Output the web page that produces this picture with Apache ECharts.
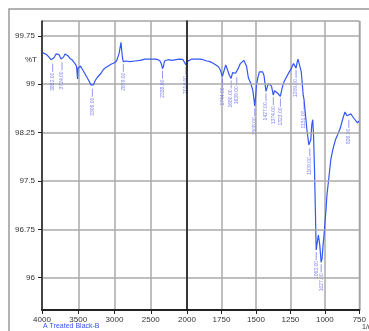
<!DOCTYPE html>
<html>
<head>
<meta charset="utf-8">
<script src="https://cdn.jsdelivr.net/npm/echarts@6/dist/echarts.min.js"></script>
<style>
  html, body { margin: 0; padding: 0; background: #fff; }
  #main { width: 369px; height: 331px; }
</style>
</head>
<body>
<div id="main"></div>
<script>
// IR spectrum, x axis is split: 4000-2000 compressed, 2000-750 expanded
var specHigh = [
  [3993,99.49],[3972,99.47],[3938,99.46],[3903,99.42],[3876,99.38],[3852,99.35],[3834,99.41],[3807,99.47],
  [3786,99.49],[3766,99.46],[3738,99.39],[3724,99.37],[3703,99.42],[3683,99.47],[3662,99.46],[3641,99.44],
  [3614,99.40],[3586,99.38],[3566,99.35],[3545,99.32],[3524,99.28],[3517,99.19],[3510,99.08],[3503,99.25],
  [3490,99.28],[3476,99.22],[3469,99.28],[3448,99.24],[3421,99.19],[3386,99.12],[3352,99.05],[3324,98.99],
  [3306,98.96],[3290,98.99],[3269,99.05],[3241,99.10],[3214,99.13],[3186,99.17],[3159,99.22],[3131,99.25],
  [3090,99.28],[3048,99.31],[3007,99.33],[2979,99.35],[2959,99.40],[2938,99.47],[2924,99.56],[2910,99.65],
  [2901,99.53],[2890,99.41],[2879,99.35],[2862,99.38],[2841,99.36],[2786,99.35],[2717,99.36],[2648,99.37],
  [2579,99.39],[2510,99.39],[2441,99.39],[2400,99.38],[2372,99.36],[2352,99.31],[2338,99.24],[2324,99.28],
  [2310,99.36],[2262,99.38],[2207,99.37],[2152,99.38],[2097,99.39],[2055,99.38],[2028,99.37],[2014,99.30],
  [2000,99.35]
];
var specLow = [
  [2000,99.35],[1986,99.36],[1965,99.39],[1938,99.39],[1910,99.39],[1883,99.38],[1855,99.36],[1834,99.35],
  [1814,99.33],[1793,99.30],[1772,99.27],[1758,99.22],[1744,99.12],[1734,99.19],[1719,99.30],[1706,99.22],
  [1693,99.14],[1680,99.09],[1669,99.18],[1657,99.20],[1648,99.17],[1639,99.14],[1627,99.25],[1613,99.32],
  [1599,99.35],[1588,99.37],[1579,99.38],[1568,99.28],[1555,99.10],[1537,99.01],[1523,98.91],[1514,98.76],
  [1508,98.66],[1503,98.79],[1496,98.99],[1485,99.11],[1475,99.19],[1461,99.22],[1451,99.19],[1441,99.13],
  [1434,99.01],[1427,98.89],[1420,98.94],[1410,99.01],[1399,99.01],[1387,98.97],[1374,98.83],[1365,98.90],
  [1354,98.91],[1342,98.86],[1330,98.83],[1323,98.81],[1313,98.91],[1300,99.02],[1289,99.07],[1277,99.09],
  [1261,99.18],[1242,99.25],[1227,99.32],[1216,99.32],[1209,99.25],[1202,99.33],[1195,99.39],[1185,99.41],
  [1171,99.19],[1157,98.83],[1151,98.76],[1144,98.60],[1130,98.29],[1116,98.06],[1109,98.04],[1102,98.14],
  [1095,98.37],[1088,98.45],[1082,98.21],[1075,97.67],[1068,96.97],[1063,96.43],[1058,96.51],[1047,96.66],
  [1037,96.51],[1027,96.24],[1020,96.30],[1013,96.51],[1006,96.66],[992,97.05],[985,97.28],[971,97.55],
  [957,97.83],[943,97.98],[923,98.14],[909,98.21],[888,98.32],[868,98.48],[854,98.57],[840,98.51],
  [826,98.48],[812,98.54],[792,98.48],[764,98.40],[752,98.43]
];
// picked peaks (wavenumber, %T)
var peakWn = [3852, 3724, 3306, 2879, 2338, 2014, 1744, 1680, 1639, 1508, 1427, 1374, 1323, 1209, 1151, 1109, 1063, 1027, 826];
var peakT  = [99.35, 99.37, 98.96, 99.35, 99.24, 99.30, 99.12, 99.09, 99.14, 98.66, 98.89, 98.83, 98.81, 99.25, 98.76, 98.04, 96.43, 96.24, 98.48];
var yTicks = [96, 96.75, 97.5, 98.25, 99, 99.75];
var xLabelsHigh = [2500, 3000, 3500, 4000];

var lineColor = '#3457f5';
var peakColor = '#5a5cf0';

var peaksHigh = [], peaksLow = [];
for (var i = 0; i < peakWn.length; i++) {
    if (peakWn[i] > 2000) peaksHigh.push([peakWn[i], peakT[i]]);
    else peaksLow.push([peakWn[i], peakT[i]]);
}

function peakSeries(idx, data) {
    return {
        type: 'scatter',
        xAxisIndex: idx,
        yAxisIndex: idx,
        data: data,
        symbol: 'rect',
        symbolSize: [0.8, 8],
        symbolOffset: [0, 6],
        itemStyle: { color: peakColor },
        silent: true,
        z: 4,
        label: {
            show: true,
            position: 'bottom',
            distance: 1,
            rotate: 90,
            align: 'right',
            verticalAlign: 'middle',
            fontSize: 5,
            fontFamily: 'Liberation Sans',
            color: peakColor,
            formatter: function (p) { return p.value[0].toFixed(2); }
        }
    };
}

var gridLine = { show: true, lineStyle: { color: '#aaa', width: 1.5 } };
var axisFont = { fontSize: 8, color: '#333', fontFamily: 'Liberation Sans' };
var plainNum = function (v) { return String(v); };

var chart = echarts.init(document.getElementById('main'));
var option = {
    animation: false,
    grid: [
        { left: 42, top: 21, width: 145, height: 289, show: true, borderColor: '#777', borderWidth: 1 },
        { left: 187, top: 21, width: 181, height: 289, show: true, borderColor: '#777', borderWidth: 1 }
    ],
    xAxis: [
        {
            type: 'value', gridIndex: 0, inverse: true, min: 2000, max: 4000, interval: 500,
            axisLine: { lineStyle: { color: '#222', width: 2 } },
            axisTick: { length: 4, lineStyle: { color: '#222' } },
            axisLabel: Object.assign({ margin: 6, customValues: xLabelsHigh, formatter: plainNum }, axisFont),
            splitLine: gridLine
        },
        {
            type: 'value', gridIndex: 1, inverse: true, min: 750, max: 2000, interval: 250,
            axisLine: { lineStyle: { color: '#222', width: 2 } },
            axisTick: { length: 4, lineStyle: { color: '#222' } },
            axisLabel: Object.assign({ margin: 6, showMaxLabel: true, showMinLabel: true, formatter: plainNum }, axisFont),
            splitLine: gridLine
        }
    ],
    yAxis: [
        {
            type: 'value', gridIndex: 0, min: 95.5, max: 99.98,
            axisLine: { show: true, lineStyle: { color: '#222', width: 1.5 } },
            axisTick: { show: true, length: 4, customValues: yTicks, lineStyle: { color: '#222' } },
            axisLabel: Object.assign({ margin: 7, customValues: yTicks, formatter: plainNum }, axisFont),
            splitLine: gridLine
        },
        {
            type: 'value', gridIndex: 1, min: 95.5, max: 99.98, z: 5,
            axisLine: { show: true, lineStyle: { color: '#111', width: 1.5 } },
            axisTick: { show: false, customValues: yTicks },
            axisLabel: { show: false, customValues: yTicks },
            splitLine: gridLine
        }
    ],
    series: [
        {
            type: 'line', xAxisIndex: 0, yAxisIndex: 0, data: specHigh,
            showSymbol: false, z: 3,
            lineStyle: { color: lineColor, width: 1.2 }
        },
        {
            type: 'line', xAxisIndex: 1, yAxisIndex: 1, data: specLow,
            showSymbol: false, z: 3,
            lineStyle: { color: lineColor, width: 1.2 }
        },
        peakSeries(0, peaksHigh),
        peakSeries(1, peaksLow)
    ],
    graphic: [
        { type: 'rect', shape: { x: 9, y: 9, width: 420, height: 400 }, style: { fill: 'none', stroke: '#999', lineWidth: 1.5 }, silent: true },
        { type: 'text', left: 25, top: 56, style: { text: '%T', fontSize: 8, fill: '#333', fontFamily: 'Liberation Sans' } },
        { type: 'text', left: 43, top: 323, style: { text: 'A Treated Black-B', fontSize: 7, fill: '#3457f5', fontFamily: 'Liberation Sans' } },
        { type: 'text', left: 362, top: 324, style: { text: '1/cm', fontSize: 7, fill: '#333', fontFamily: 'Liberation Sans' } }
    ]
};
chart.setOption(option);
</script>
</body>
</html>
